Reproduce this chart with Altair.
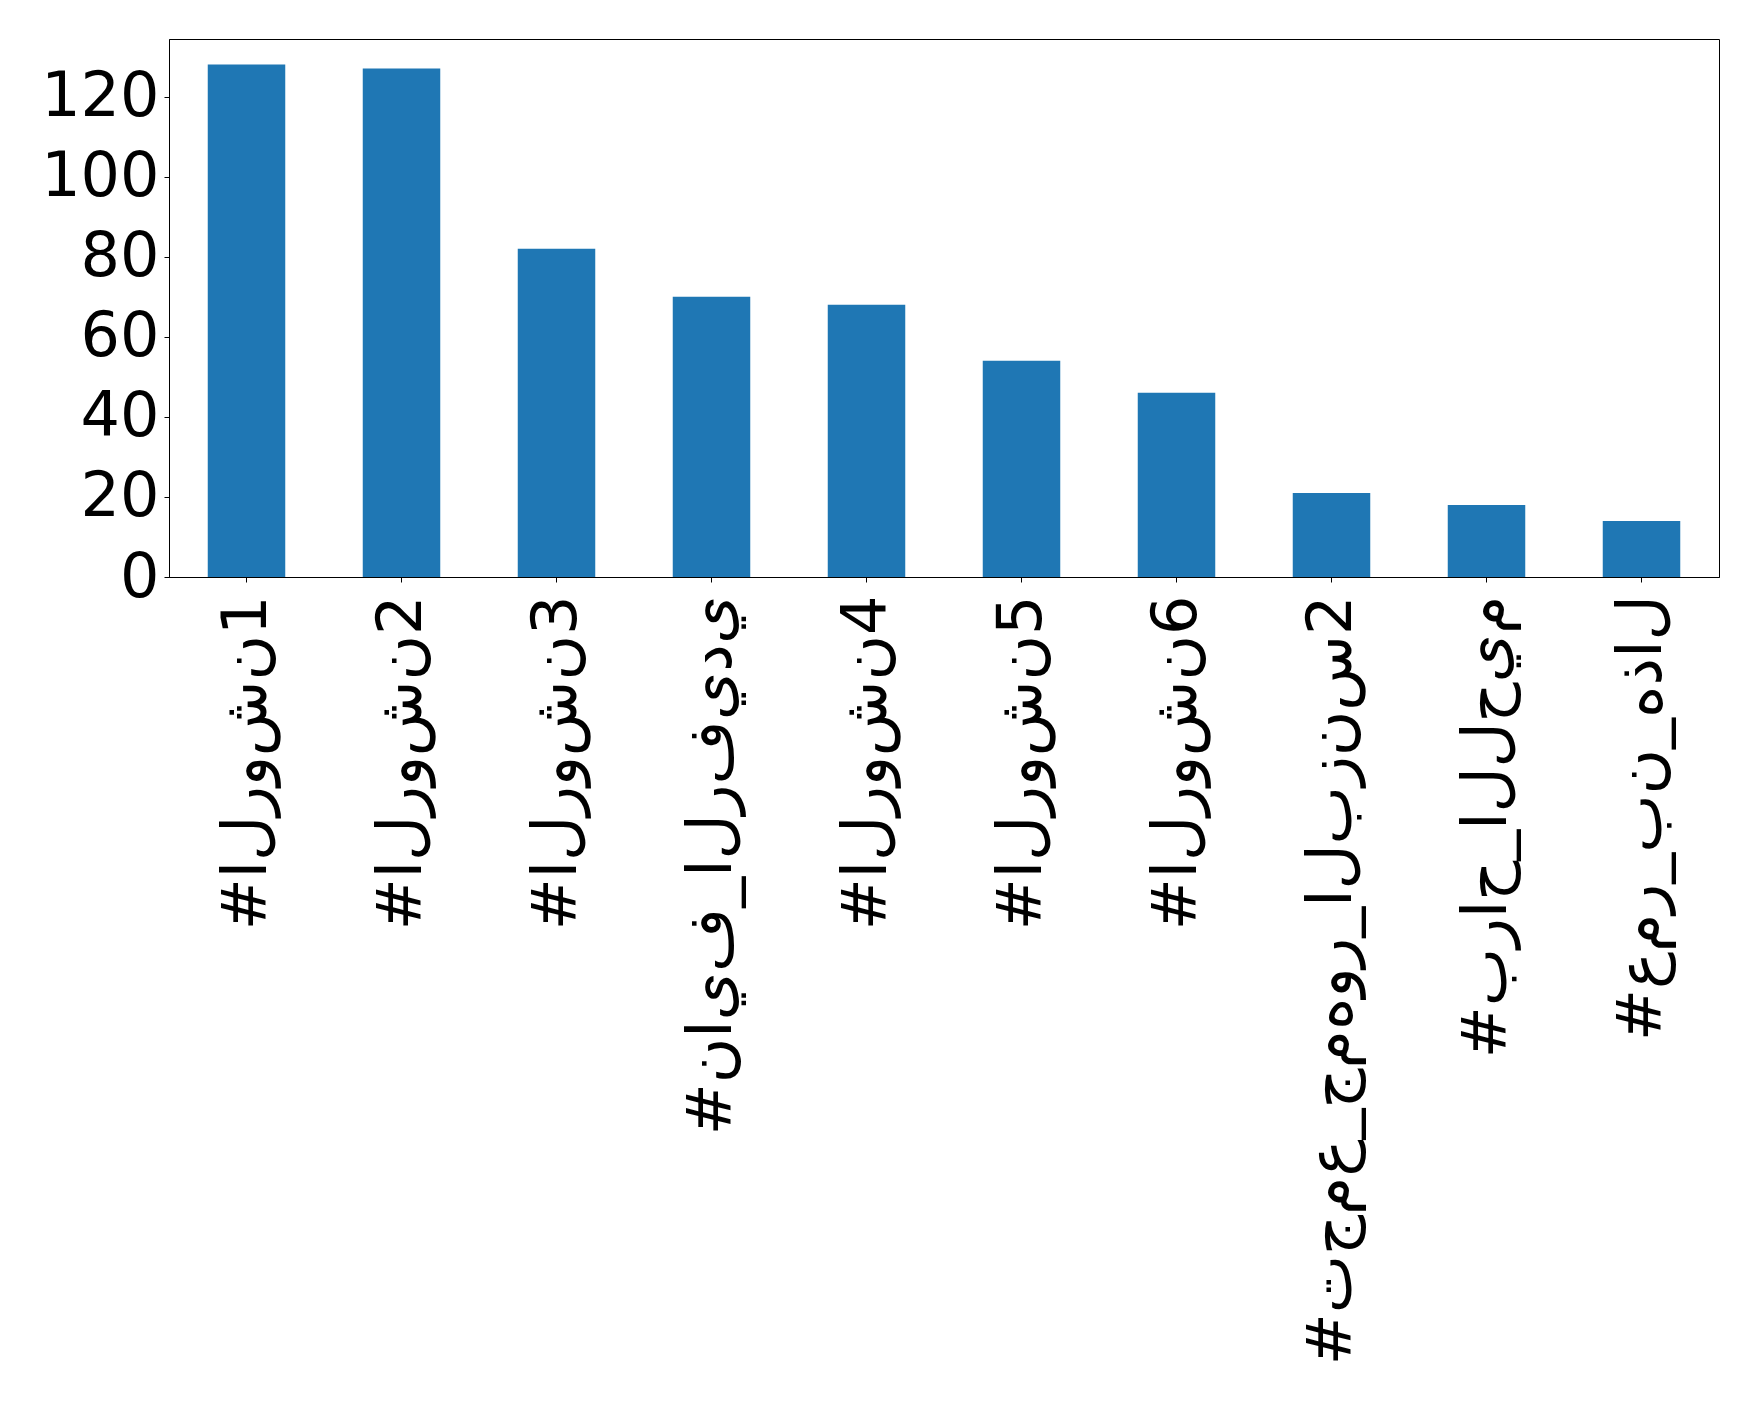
import altair as alt
import pandas as pd

# Categories (logical Arabic text) and counts
labels = [
    "#الروشن1",
    "#الروشن2",
    "#الروشن3",
    "#نايف_الرفيدي",
    "#الروشن4",
    "#الروشن5",
    "#الروشن6",
    "#تجمع_جمهور_البزنس2",
    "#براح_اللحيم",
    "#عمر_بن_هذال",
]
counts = [128, 127, 82, 70, 68, 54, 46, 21, 18, 14]

# The reference draws each letter unjoined, left to right:
# keep the same characters, but separate them with ZWNJ and force LTR order.
LRO, PDF, ZWNJ = "\u202d", "\u202c", "\u200c"
display = [LRO + ZWNJ.join(list(s)) + PDF for s in labels]

df = pd.DataFrame({"tag": display, "count": counts, "order": list(range(len(labels)))})

FONT = "DejaVu Sans"
FS = 62

chart = (
    alt.Chart(df)
    .mark_bar(color="#1f77b4")
    .encode(
        x=alt.X(
            "tag:N",
            sort=alt.EncodingSortField(field="order", order="ascending"),
            scale=alt.Scale(paddingInner=0.5, paddingOuter=0.25),
            axis=alt.Axis(
                title=None,
                labelAngle=-90,
                labelAlign="right",
                labelBaseline="middle",
                labelFont=FONT,
                labelFontSize=FS,
                labelColor="black",
                labelPadding=13,
                labelLimit=2000,
                labelOverlap=False,
                tickSize=5,
                tickColor="black",
                domainColor="black",
                grid=False,
            ),
        ),
        y=alt.Y(
            "count:Q",
            scale=alt.Scale(domain=[0, 134.4], nice=False, zero=True),
            axis=alt.Axis(
                title=None,
                values=[0, 20, 40, 60, 80, 100, 120],
                labelFont=FONT,
                labelFontSize=FS,
                labelColor="black",
                labelPadding=5,
                tickSize=5,
                tickColor="black",
                domainColor="black",
                grid=False,
            ),
        ),
    )
    .properties(
        width=1550,
        height=538,
        background="white",
        autosize=alt.AutoSizeParams(type="none"),
        padding={"left": 161, "top": 31, "right": 30, "bottom": 810},
    )
    .configure_view(stroke="black", strokeWidth=1)
)

chart.save("out.html", embed_options={"renderer": "svg", "actions": False})
